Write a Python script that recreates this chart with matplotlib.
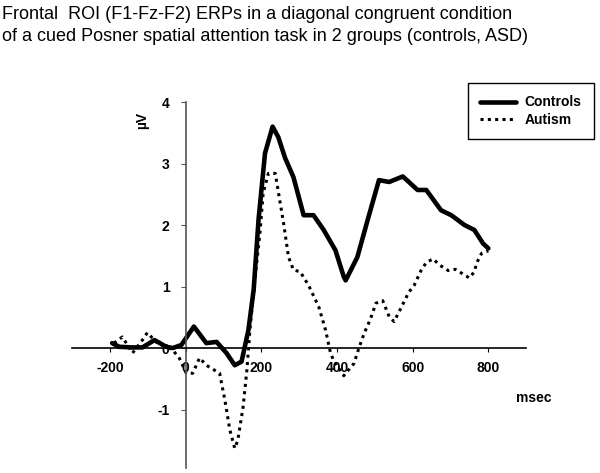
import matplotlib
matplotlib.use("Agg")
import matplotlib.pyplot as plt

# ERP traces (msec, microvolts)
ctrl_t = [-194, -175, -140, -114, -82, -51, -34, -11, 22, 55, 82, 108, 130, 148,
          166, 180, 193, 210, 230, 245, 263, 285, 312, 338, 365, 396, 418, 423,
          454, 481, 511, 538, 574, 613, 636, 675, 702, 737, 763, 786, 800]
ctrl_v = [0.08, 0.02, 0.01, 0.01, 0.13, 0.02, 0.0, 0.05, 0.35, 0.08, 0.1, -0.08,
          -0.28, -0.22, 0.29, 0.95, 2.1, 3.17, 3.6, 3.43, 3.09, 2.78, 2.16, 2.16,
          1.92, 1.59, 1.16, 1.1, 1.48, 2.08, 2.73, 2.7, 2.79, 2.57, 2.57, 2.24,
          2.16, 2.0, 1.92, 1.7, 1.62]

asd_t = [-189, -167, -140, -114, -101, -78, -34, -16, 2, 19, 37, 55, 90, 104, 117,
         130, 138, 152, 162, 170, 183, 197, 205, 219, 237, 250, 259, 272, 285, 303,
         325, 352, 370, 383, 391, 418, 445, 458, 472, 489, 503, 521, 538, 551, 569,
         590, 604, 622, 636, 654, 671, 694, 713, 734, 750, 763, 769, 782, 800]
asd_v = [0.08, 0.18, -0.08, 0.13, 0.25, 0.1, -0.03, -0.17, -0.41, -0.41, -0.16,
         -0.28, -0.41, -0.85, -1.33, -1.63, -1.5, -0.96, -0.36, 0.29, 1.1, 1.9,
         2.52, 2.84, 2.84, 2.36, 2.03, 1.48, 1.27, 1.24, 1.02, 0.67, 0.29, -0.08,
         -0.2, -0.45, -0.25, 0.0, 0.24, 0.48, 0.73, 0.77, 0.51, 0.43, 0.65, 0.91,
         1.02, 1.26, 1.39, 1.45, 1.35, 1.26, 1.28, 1.2, 1.14, 1.24, 1.38, 1.54,
         1.58]

xticks = [-200, 0, 200, 400, 600, 800]
yticks = [-1, 0, 1, 2, 3, 4]

title = ("Frontal  ROI (F1-Fz-F2) ERPs in a diagonal congruent condition\n"
         "of a cued Posner spatial attention task in 2 groups (controls, ASD)")

plt.rcParams['font.family'] = ['Liberation Sans', 'DejaVu Sans']

fig = plt.figure(figsize=(6, 4.73), dpi=100)
ax = fig.add_axes([0.12, 0.0106, 0.757, 0.7737])

ax.plot(ctrl_t, ctrl_v, color="black", lw=3.3, label="Controls", solid_capstyle="round")
ax.plot(asd_t, asd_v, color="black", lw=2.2, linestyle=(0, (1, 1.4)),
        dash_capstyle="butt", label="Autism")

ax.set_xlim(-300, 900)
ax.set_ylim(-1.95, 4)

ax.spines['left'].set_position(('data', 0))
ax.spines['bottom'].set_position(('data', 0))
ax.spines['top'].set_visible(False)
ax.spines['right'].set_visible(False)
ax.spines['left'].set_color("#555555")
ax.spines['left'].set_linewidth(1.2)
ax.spines['bottom'].set_linewidth(1.2)

ax.set_xticks(xticks)
ax.set_yticks(yticks)
ax.set_xticklabels([str(v) for v in xticks], fontweight="bold", fontsize=10)
ax.set_yticklabels([str(v) for v in yticks], fontweight="bold", fontsize=10)
ax.tick_params(axis="x", direction="out", length=3, pad=6)
ax.tick_params(axis="y", direction="out", length=3.5, pad=8, color="#555555")

ax.text(-115, 3.7, "µV", rotation=90, fontsize=10, fontweight="bold",
        ha="center", va="center")
ax.text(920, -0.81, "msec", fontsize=10, fontweight="bold",
        ha="center", va="center", clip_on=False)

leg = ax.legend(loc="upper right", bbox_to_anchor=(1.15, 1.052), borderaxespad=0,
                frameon=True, fancybox=False, edgecolor="black", framealpha=1,
                prop={"weight": "bold", "size": 10}, handlelength=2.6,
                borderpad=0.9, labelspacing=0.25, handletextpad=0.6)
leg.get_frame().set_linewidth(1)

fig.text(0.004, 0.987, title, fontsize=13, ha="left", va="top", linespacing=1.35)

fig.savefig("out.png", dpi=100)
